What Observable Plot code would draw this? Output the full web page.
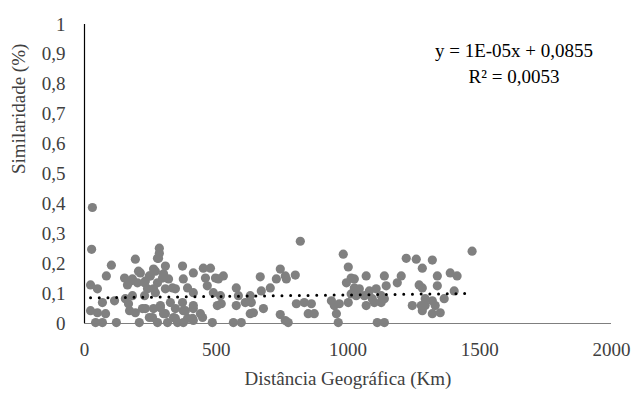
<!DOCTYPE html>
<html>
<head>
<meta charset="utf-8">
<script src="https://cdn.jsdelivr.net/npm/d3@7"></script>
<script src="https://cdn.jsdelivr.net/npm/@observablehq/plot@0.6"></script>
<style>
  html, body { margin: 0; padding: 0; background: #fff; }
  #chart { width: 635px; height: 394px; }
  #chart svg, #chart svg text { font-family: "Liberation Serif", "Times New Roman", serif !important; }
</style>
</head>
<body>
<div id="chart"></div>
<script>
// Distância geográfica (Km)
const distX = [
  30,27,193,102,83,152,23,49,163,182,201,228,212,246,114,68,23,49,80,68,42,121,171,193,208,155,182,228,231,246,
  284,277,284,307,262,372,413,451,478,459,497,300,250,319,277,375,391,466,489,269,307,345,413,262,288,326,372,375,413,440,
  300,338,391,277,315,353,375,485,413,504,
  743,667,728,762,527,508,576,705,671,516,584,629,519,576,610,633,679,641,629,743,762,565,595,
  819,982,1001,1012,994,800,766,804,834,861,849,872,937,948,967,1001,956,963,773,1012,
  1221,1259,1282,1069,1138,1202,1024,1145,1187,1270,1043,1081,1107,1062,1092,1126,1138,1069,1100,1126,1244,1278,1111,1138,1031,1024,
  1471,1320,1388,1414,1339,1339,1403,1293,1320,1365,1331,1293,1320,1350,1282,1282,
  175,205,231,269,296,281,239,262,334,167,220,288,307,345,383,413,258,345,410,448
];
// Similaridade (%)
const simY = [
  0.388,0.248,0.215,0.195,0.159,0.152,0.129,0.116,0.129,0.149,0.136,0.136,0.169,0.159,0.076,0.07,0.043,0.036,0.033,0.003,0.003,0.003,0.043,0.036,0.003,0.083,0.093,0.093,0.05,0.02,
  0.252,0.218,0.235,0.192,0.182,0.192,0.169,0.185,0.185,0.152,0.152,0.166,0.159,0.149,0.136,0.149,0.119,0.126,0.103,0.103,0.116,0.116,0.103,0.05,0.06,0.07,0.07,0.043,0.05,0.033,
  0.033,0.02,0.017,0.003,0.003,0.003,0.003,0.003,0.01,0.06,
  0.182,0.156,0.149,0.159,0.159,0.149,0.119,0.119,0.109,0.093,0.093,0.093,0.066,0.06,0.07,0.07,0.05,0.036,0.033,0.03,0.01,0.003,0.003,
  0.275,0.232,0.189,0.152,0.136,0.162,0.149,0.066,0.07,0.066,0.033,0.033,0.076,0.06,0.066,0.07,0.033,0.003,0.003,0.099,
  0.218,0.215,0.185,0.159,0.159,0.159,0.149,0.126,0.136,0.129,0.116,0.109,0.116,0.093,0.083,0.093,0.083,0.06,0.07,0.07,0.06,0.06,0.003,0.003,0.093,0.119,
  0.242,0.212,0.169,0.159,0.159,0.126,0.109,0.083,0.076,0.083,0.06,0.06,0.033,0.036,0.043,0.119,
  0.142,0.175,0.142,0.175,0.152,0.218,0.116,0.116,0.119,0.066,0.05,0.053,0.033,0.05,0.043,0.06,0.02,0.017,0.017,0.02
];

const xTicks = [0, 500, 1000, 1500, 2000];
const yTicks = [0, 0.1, 0.2, 0.3, 0.4, 0.5, 0.6, 0.7, 0.8, 0.9, 1];
const trendSlope = 1e-5;
const trendIntercept = 0.0855;
const equationText = "y = 1E-05x + 0,0855";
const r2Text = "R² = 0,0053";
const xTitle = "Distância Geográfica (Km)";
const yTitle = "Similaridade (%)";

const points = distX.map((x, i) => ({x, y: simY[i]}));
const [xMin, xMax] = d3.extent(distX);
const trend = [xMin, xMax].map(x => ({x, y: trendSlope * x + trendIntercept}));

const fmtY = t => String(Math.round(t * 10) / 10).replace(".", ",");
const serif = "Liberation Serif";

const chart = Plot.plot({
  width: 635,
  height: 394,
  marginLeft: 84,
  marginRight: 24,
  marginTop: 24,
  marginBottom: 71,
  style: { fontFamily: serif, fontSize: "19px", color: "#404040", background: "#fff" },
  x: { domain: [0, 2000] },
  y: { domain: [0, 1] },
  marks: [
    Plot.axisX({ticks: xTicks, tickSize: 0, tickPadding: 19, fontSize: 19, fontFamily: serif, label: null, tickFormat: d => String(d)}),
    Plot.axisY({ticks: yTicks, tickSize: 0, tickPadding: 19, fontSize: 19, fontFamily: serif, label: null, tickFormat: fmtY}),
    Plot.text([xTitle], {frameAnchor: "bottom", dy: 61, fontSize: 19, fontFamily: serif, fill: "#404040"}),
    Plot.text([yTitle], {frameAnchor: "left", dx: -66, rotate: -90, fontSize: 19, fontFamily: serif, fill: "#404040"}),
    Plot.dot(points, {x: "x", y: "y", r: 4.6, fill: "#808080", stroke: "none"}),
    Plot.line(trend, {x: "x", y: "y", stroke: "#000", strokeWidth: 3, strokeDasharray: "0,8.7", strokeLinecap: "round"}),
    Plot.ruleY([0], {stroke: "#7f7f7f", strokeWidth: 1.2}),
    Plot.ruleX([0], {stroke: "#000", strokeWidth: 1.2}),
    Plot.text([equationText], {frameAnchor: "top", dx: 166, dy: 19, fontSize: 19, fontFamily: serif, fill: "#000"}),
    Plot.text([r2Text], {frameAnchor: "top", dx: 166, dy: 45, fontSize: 19, fontFamily: serif, fill: "#000"})
  ]
});
document.getElementById("chart").appendChild(chart);
</script>
</body>
</html>
